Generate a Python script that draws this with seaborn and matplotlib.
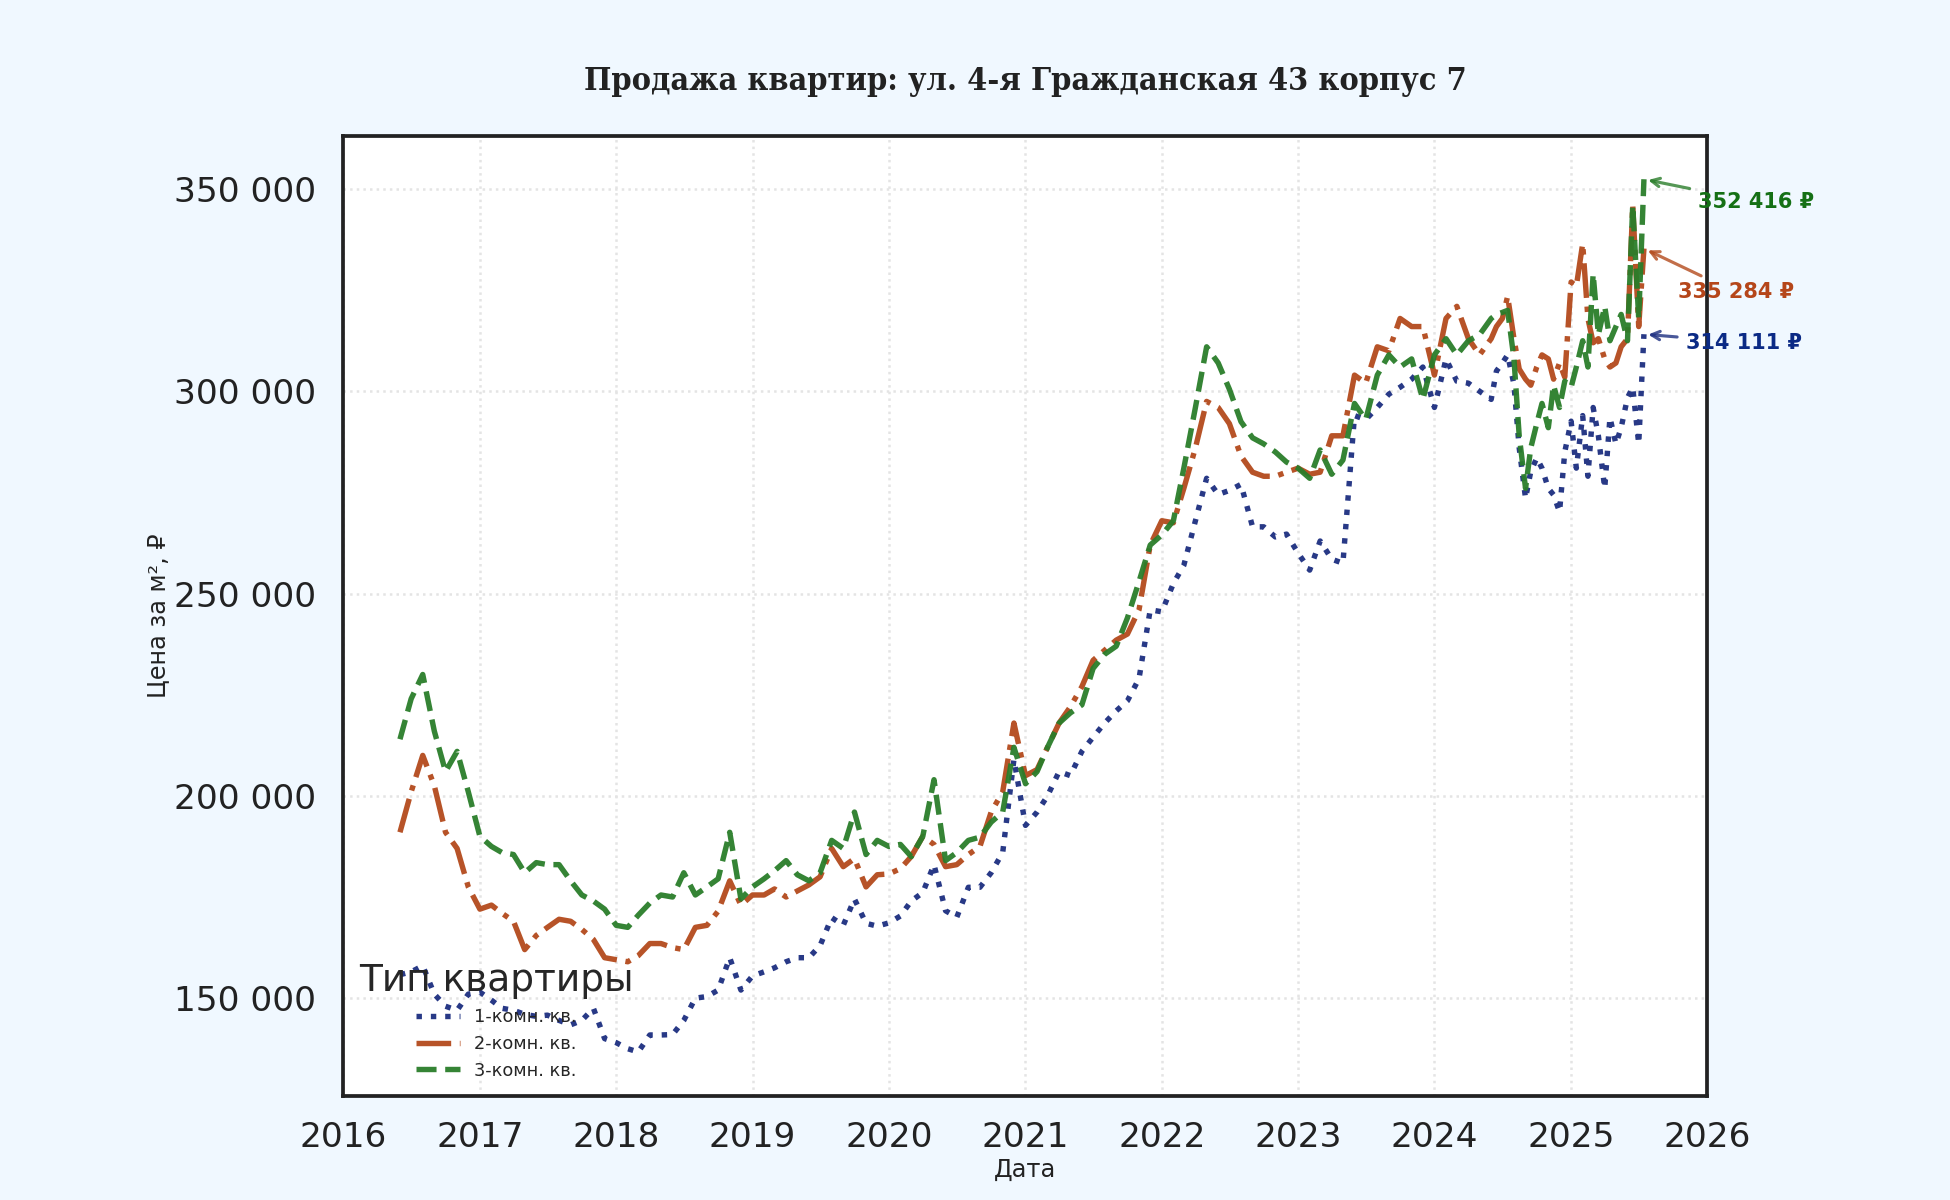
import matplotlib
matplotlib.use('Agg')
import matplotlib.pyplot as plt
import matplotlib.dates as mdates
from matplotlib.ticker import FuncFormatter
import numpy as np
import pandas as pd
import seaborn as sns

# monthly points up to mid-2024, then twice a month
monthly_dates = pd.date_range('2016-06-01', '2024-06-01', freq='MS')
half_month_dates = pd.date_range('2024-06-15', '2025-07-15', freq='SMS')
dates = monthly_dates.append(half_month_dates)

# price per m2, thousands of rubles
one_room = [
    155.8, 156.5, 158, 151, 148, 147, 151,
    151.5, 149.5, 147.5, 147, 146, 145.5, 145.8, 144.5, 143.4, 144.5, 147.5, 140,
    139, 137.5, 136.7, 140.9, 140.9, 141, 144.5, 150, 150.4, 152, 160, 152,
    155.5, 156.5, 157.5, 159, 160, 160, 163, 169.9, 168, 174.5, 168.5, 167.8,
    168.6, 170.3, 174, 176.1, 183, 171.6, 170, 177.4, 177.4, 181, 186, 209,
    192.7, 196, 200, 206, 205, 211, 214.5, 218, 221, 223.5, 229, 246,
    245.5, 252.5, 257, 268, 278.5, 274.5, 275.5, 277, 266.5, 266.5, 264, 264.7,
    260, 255.8, 263, 258.5, 257.5, 294, 293, 296, 299.3, 301, 303, 306,
    296, 308, 302.5, 302, 300, 298,
    305, 307, 309, 301.7, 286, 273.5, 280.2, 283.5, 281, 276, 274.4, 270.2, 285,
    292.6, 281, 294, 279, 296, 289, 276, 293.5, 287, 291, 298.4, 301, 287, 314.111,
]
two_room = [
    191, 201, 210, 202.5, 191, 187, 177.5,
    172, 173, 171, 169, 162, 165.5, 167.5, 169.5, 169, 167, 164.5, 160,
    159.5, 159, 160.5, 163.5, 163.5, 162.5, 162, 167.5, 168, 171.5, 179, 173,
    175.5, 175.5, 177, 175, 176.5, 178, 180, 187, 182.5, 184.5, 177.5, 180.5,
    180.7, 182, 185, 190, 188, 182.5, 183, 185.5, 187.5, 196, 201, 218,
    205, 206.5, 212, 218, 222, 227, 233.5, 236, 238.5, 240, 246, 262,
    268, 267.5, 276, 286, 297.5, 296, 292, 284, 280, 279, 279, 280,
    281, 279.5, 280, 289, 289, 304, 302, 311, 310, 318, 316, 316,
    304, 318, 321, 313, 309, 313,
    316, 318, 323.5, 313, 305.5, 303, 301.5, 306, 309, 308, 303, 307, 303.5,
    327, 326, 336.5, 318, 312, 313, 308, 306, 307, 311, 313, 346, 316, 335.284,
]
three_room = [
    214, 224, 230, 216, 206, 211, 201,
    190, 187.5, 186, 185.5, 181, 183.5, 183, 183, 179, 175.5, 174, 172,
    168, 167.5, 170.5, 173.5, 175.5, 175, 181, 175.5, 177.5, 179.5, 191, 174.5,
    177.5, 179.5, 181.5, 184, 180.5, 179, 181, 189, 187, 196, 185.5, 189,
    187.5, 188, 185, 190, 204, 184, 186, 189, 189.8, 193.5, 196, 212,
    203, 206, 212, 218, 220.5, 222.5, 231.5, 235, 237, 244, 253, 262,
    264.5, 268, 281, 296, 311, 307, 300.5, 292.5, 288.5, 287, 285, 282.5,
    281, 278.5, 285.5, 279.5, 283, 297, 293, 304, 309, 306, 308, 298,
    309, 313, 309, 312.5, 314, 318,
    319, 319.5, 320, 308, 289, 276, 286, 292, 297, 291, 301.5, 296, 302.5,
    301, 306, 312.5, 306, 329, 314, 321, 312.5, 316, 319, 312.5, 346, 318, 352.416,
]

labels = ['1-комн. кв.', '2-комн. кв.', '3-комн. кв.']
line_colors = ['#1c2e80', '#b34a1c', '#2a7d2a']
text_colors = ['#0b2a85', '#b5461a', '#157015']
line_styles = [':', '-.', '--']
label_offsets = [(48, -4), (44, -21), (54, -11)]

sns.set_theme(style='whitegrid')
plt.rcParams['font.family'] = ['DejaVu Sans']

fig, ax = plt.subplots(figsize=(13, 8), dpi=150)
fig.patch.set_facecolor('#F0F8FF')
ax.set_facecolor('white')
fig.subplots_adjust(left=0.176, right=0.8756, top=0.887, bottom=0.087)

all_series = [one_room, two_room, three_room]
for vals, name, color, ls in zip(all_series, labels, line_colors, line_styles):
    sns.lineplot(x=dates, y=np.array(vals) * 1000, ax=ax, color=color,
                 linestyle=ls, linewidth=2.6, alpha=0.95, label=name)

for vals, tcolor, lcolor, off in zip(all_series, text_colors, line_colors, label_offsets):
    last = vals[-1] * 1000
    txt = f'{last:,.0f}'.replace(',', ' ') + ' ₽'
    ax.annotate(txt, xy=(dates[-1], last), xytext=off, textcoords='offset points',
                ha='center', va='center', fontsize=10, fontweight='bold', color=tcolor,
                arrowprops=dict(arrowstyle='->', color=lcolor, lw=1.5, alpha=0.8),
                annotation_clip=False)

ax.set_xlim(pd.Timestamp('2016-01-01'), pd.Timestamp('2026-01-01'))
ax.xaxis.set_major_locator(mdates.YearLocator())
ax.xaxis.set_major_formatter(mdates.DateFormatter('%Y'))
ax.yaxis.set_major_formatter(FuncFormatter(lambda v, p: f'{v:,.0f}'.replace(',', ' ')))

ax.grid(True, linestyle=':', color='#e4e4e4', linewidth=1.2)
ax.tick_params(labelsize=16.5, length=0, labelcolor='#222')
ax.tick_params(axis='y', pad=13)
ax.tick_params(axis='x', pad=12)
for s in ax.spines.values():
    s.set_visible(True)
    s.set_color('#222')
    s.set_linewidth(1.8)

ax.set_title('Продажа квартир: ул. 4-я Гражданская 43 корпус 7', family='DejaVu Serif',
             fontweight='bold', fontstretch='condensed', fontsize=15.5, pad=22, color='#222')
ax.set_xlabel('Дата', fontsize=11.5, color='#222', labelpad=2)
ax.set_ylabel('Цена за м², ₽', fontsize=11.5, color='#222', labelpad=2)

ax.legend(title='Тип квартиры', loc='lower left', frameon=False, fontsize=8.5,
          title_fontsize=18, handlelength=2.5)

plt.savefig('out.png', dpi=150, facecolor=fig.get_facecolor())
